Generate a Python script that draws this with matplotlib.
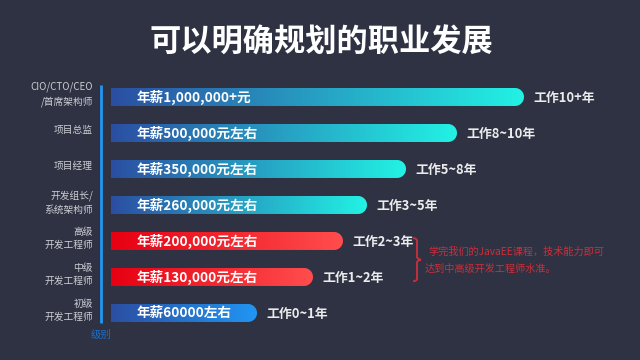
import matplotlib
matplotlib.use("Agg")
import matplotlib.pyplot as plt
import numpy as np
from matplotlib.colors import LinearSegmentedColormap
from matplotlib.patches import Polygon, PathPatch
from matplotlib.path import Path

plt.rcParams['font.family'] = ['Noto Sans CJK SC', 'DejaVu Sans']

# data (bar length, in pixels)
levels = ["CIO/CTO/CEO\n/首席架构师", "项目总监", "项目经理", "开发组长/\n系统架构师",
          "高级\n开发工程师", "中级\n开发工程师", "初级\n开发工程师"]
salaries = ["年薪1,000,000+元", "年薪500,000元左右", "年薪350,000元左右", "年薪260,000元左右",
            "年薪200,000元左右", "年薪130,000元左右", "年薪60000左右"]
years = ["工作10+年", "工作8~10年", "工作5~8年", "工作3~5年",
         "工作2~3年", "工作1~2年", "工作0~1年"]
bar_len = [413, 346, 295, 256, 232, 202, 146]
title = "可以明确规划的职业发展"
note = ["学完我们的JavaEE课程，技术能力即可", "达到中高级开发工程师水准。"]
axis_name = "级别"

# styles
bg = '#2e3242'
grad_blue = ('#2b4ea2', '#22f2e4')
grad_red = ('#e60012', '#ff4d4d')
grad_light = ('#2b4ea2', '#2196f3')
grads = [grad_blue] * 4 + [grad_red] * 2 + [grad_light]

fig = plt.figure(figsize=(6.4, 3.6), dpi=100, facecolor=bg)
ax = fig.add_axes([0, 0, 1, 1])
ax.set_facecolor(bg)
# 1 x unit = 1 px, 1 y unit = 36 px
ax.set_xlim(-111, 529)
ax.set_ylim(7.306, -2.694)
ax.axis('off')

half = 0.25  # half bar height in y units (9 px)
r = 9        # end radius in px (x units)
t = np.linspace(-np.pi / 2, np.pi / 2, 40)
grad_arr = np.linspace(0, 1, 256).reshape(1, -1)

for i, (L, g) in enumerate(zip(bar_len, grads)):
    cmap = LinearSegmentedColormap.from_list('g%d' % i, list(g))
    xs = list(L - r + r * np.cos(t))
    ys = list(i + half * np.sin(t))
    pts = [(0, i - half)] + list(zip(xs, ys)) + [(0, i + half)]
    poly = Polygon(pts, closed=True, facecolor='none', edgecolor='none')
    ax.add_patch(poly)
    im = ax.imshow(grad_arr, cmap=cmap, aspect='auto',
                   extent=[0, L, i + half, i - half], interpolation='bilinear', zorder=2)
    im.set_clip_path(poly)
    ax.text(26, i, salaries[i], color='white', fontsize=9.8, fontweight='bold',
            ha='left', va='center', zorder=3)
    ax.text(L + 9, i + 0.03, years[i], color='#ececec', fontsize=9.3, fontweight='bold',
            ha='left', va='center', zorder=3)
    ax.text(-18, i - 0.07, levels[i], color='#cdcfd5', fontsize=7, ha='right', va='center',
            linespacing=1.45, multialignment='right')

# axis line and name
n = len(levels)
ax.plot([-10.5, -10.5], [-0.34, n - 1 + 0.28], color='#2196f3', lw=2, solid_capstyle='butt')
ax.text(-10, n - 1 + 0.61, axis_name, color='#1e6fc8', fontsize=7.5, ha='center', va='center')

# title
ax.text(210, -1.5, title, color='white', fontsize=22.5, fontweight='bold',
        ha='center', va='center')

# brace
bx, by0, by1 = 302, 3.92, 5.12
bm = (by0 + by1) / 2
red = '#cc2f3c'
verts = [(bx, by0), (bx + 4, by0), (bx + 4, by0 + 0.08), (bx + 4, bm - 0.08),
         (bx + 4, bm - 0.02), (bx + 8, bm), (bx + 8, bm),
         (bx + 4, bm + 0.02), (bx + 4, bm + 0.08), (bx + 4, by1 - 0.08),
         (bx + 4, by1), (bx, by1)]
codes = [Path.MOVETO, Path.CURVE3, Path.CURVE3, Path.LINETO,
         Path.CURVE3, Path.CURVE3, Path.MOVETO,
         Path.CURVE3, Path.CURVE3, Path.LINETO,
         Path.CURVE3, Path.CURVE3]
ax.add_patch(PathPatch(Path(verts, codes), facecolor='none', edgecolor=red, lw=1.3))
ax.text(317, 4.31, note[0], color=red, fontsize=7.3, ha='left', va='center')
ax.text(314, 4.78, note[1], color=red, fontsize=7.3, ha='left', va='center')

fig.savefig('out.png', dpi=100, facecolor=bg)
